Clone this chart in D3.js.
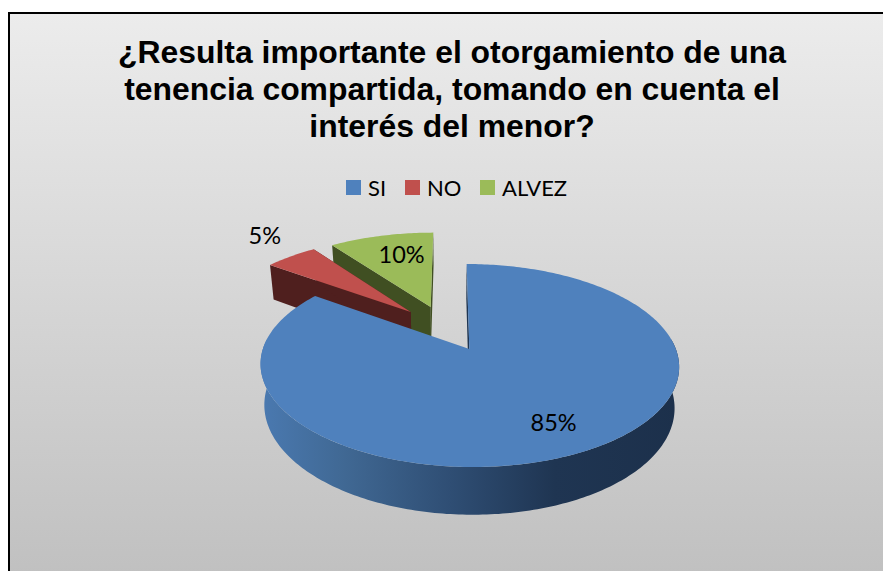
<!DOCTYPE html>
<html>
<head>
<meta charset="utf-8">
<script src="https://cdn.jsdelivr.net/npm/d3@7"></script>
<style>
  html, body { margin: 0; padding: 0; background: #fff; overflow: hidden; }
  svg { display: block; }
</style>
</head>
<body>
<div id="chart"></div>
<script>
// Data
const categories = ["SI", "NO", "ALVEZ"];
const values = [85, 5, 10];
const titleLines = [
  "¿Resulta importante el otorgamiento de una",
  "tenencia compartida, tomando en cuenta el",
  "interés del menor?"
];

const width = 883, height = 571;

const colors = d3.scaleOrdinal().domain(categories).range(["#4f81bd", "#c0504d", "#9bbb59"]);
const wallColors = d3.scaleOrdinal().domain(categories).range(["#1e3552", "#4f1f1e", "#404f22"]);

const svg = d3.select("#chart").append("svg")
  .attr("width", width)
  .attr("height", height);

const defs = svg.append("defs");

const bg = defs.append("linearGradient").attr("id", "bg")
  .attr("x1", 0).attr("y1", 0).attr("x2", 0).attr("y2", 1);
bg.append("stop").attr("offset", "0%").attr("stop-color", "#ececec");
bg.append("stop").attr("offset", "100%").attr("stop-color", "#bebebe");

// the outer wall of the big slice goes dark from left to right
const wall = defs.append("linearGradient").attr("id", "wall")
  .attr("gradientUnits", "userSpaceOnUse")
  .attr("x1", 262).attr("y1", 0).attr("x2", 680).attr("y2", 0);
[[0, "#4a79b0"], [0.2, "#406893"], [0.45, "#2f4e74"], [0.7, "#1f3552"], [1, "#1c304b"]].forEach(s => {
  wall.append("stop").attr("offset", s[0]).attr("stop-color", s[1]);
});

// Frame
svg.append("rect")
  .attr("x", 9).attr("y", 13)
  .attr("width", width + 20).attr("height", height + 20)
  .attr("fill", "url(#bg)")
  .attr("stroke", "#000")
  .attr("stroke-width", 2);

// Title
svg.append("g").selectAll("text")
  .data(titleLines)
  .join("text")
  .attr("x", 452)
  .attr("y", (d, i) => 63 + i * 37)
  .attr("text-anchor", "middle")
  .style("font-family", "'Liberation Sans', Arial, sans-serif")
  .style("font-weight", "bold")
  .style("font-size", "31.9px")
  .style("fill", "#000")
  .text(d => d);

// Legend
const legendX = d3.scaleOrdinal().domain(categories).range([346, 405, 480]);
const legend = svg.append("g").selectAll("g")
  .data(categories)
  .join("g")
  .attr("transform", d => `translate(${legendX(d)},180)`);
legend.append("rect")
  .attr("width", 15).attr("height", 15)
  .attr("fill", d => colors(d));
legend.append("text")
  .attr("x", 22).attr("y", 15.5)
  .style("font-family", "Lato, 'Open Sans', sans-serif")
  .style("font-size", "22px")
  .style("fill", "#000")
  .text(d => d);

// Slices come from d3.pie, the tilted disc is a simple perspective projection
const slices = d3.pie().sort(null).value(d => d)(values)
  .map((s, i) => ({ ...s, name: categories[i] }));

const apex = { x: 468.5, y: 349 };
const vanishX = 450, radiusX = 206.5, radiusY = 98.8, tilt = 0.1626, depth = 40, shrink = 0.98;
const explode = { SI: [0.004, 0], NO: [-0.292, 0.399], ALVEZ: [-0.19, 0.457] };

// u, v on the unit disc, z = 0 top face, z = 1 bottom face
function project(u, v, z) {
  const w = 1 + tilt * v;
  const k = z ? shrink : 1;
  return [
    vanishX + (radiusX * u + apex.x - vanishX) * k / w,
    apex.y + (-radiusY * v + depth * z) / w
  ];
}

function discPoint(s, angle, r, z) {
  const e = explode[s.name];
  return project(e[0] + r * Math.sin(angle), e[1] + r * Math.cos(angle), z);
}

function arcPoints(s, a0, a1, z) {
  const n = Math.ceil(Math.abs(a1 - a0) * 60);
  return d3.range(n + 1).map(i => discPoint(s, a0 + (a1 - a0) * i / n, 1, z));
}

const line = d3.line().curve(d3.curveLinear);
const closed = pts => line(pts) + "Z";

function topFace(s) {
  return closed([discPoint(s, 0, 0, 0), ...arcPoints(s, s.startAngle, s.endAngle, 0)]);
}

function radialWall(s, angle) {
  return closed([
    discPoint(s, 0, 0, 0), discPoint(s, angle, 1, 0),
    discPoint(s, angle, 1, 1), discPoint(s, 0, 0, 1)
  ]);
}

// Draw back to front: green, red, blue
const order = ["ALVEZ", "NO", "SI"].map(n => slices.find(s => s.name === n));
const pie = svg.append("g");

order.forEach(s => {
  if (s.name === "SI") {
    // radial wall along the top edge, then the curved front wall
    pie.append("path").attr("d", radialWall(s, s.startAngle)).attr("fill", wallColors(s.name));
    const a0 = Math.PI * 0.5 - 0.1, a1 = Math.PI * 1.5 + 0.1;
    pie.append("path")
      .attr("d", closed([...arcPoints(s, a0, a1, 0), ...arcPoints(s, a1, a0, 1)]))
      .attr("fill", "url(#wall)");
  } else {
    pie.append("path").attr("d", radialWall(s, s.startAngle)).attr("fill", wallColors(s.name));
    pie.append("path").attr("d", radialWall(s, s.endAngle)).attr("fill", wallColors(s.name));
  }
  pie.append("path").attr("d", topFace(s)).attr("fill", colors(s.name));
});

// Value labels
const labelRadius = { SI: 0.75, NO: 1.27, ALVEZ: 0.68 };
const labelNudge = { SI: [3, 0], NO: [2.5, -7], ALVEZ: [6, -2] };
svg.append("g").selectAll("text")
  .data(slices)
  .join("text")
  .attr("x", d => discPoint(d, (d.startAngle + d.endAngle) / 2, labelRadius[d.name], 0)[0] + labelNudge[d.name][0])
  .attr("y", d => discPoint(d, (d.startAngle + d.endAngle) / 2, labelRadius[d.name], 0)[1] + labelNudge[d.name][1])
  .attr("dy", ".35em")
  .attr("text-anchor", "middle")
  .style("font-family", "Lato, 'Open Sans', sans-serif")
  .style("font-size", "23.5px")
  .style("fill", "#000")
  .text(d => `${d.value}%`);
</script>
</body>
</html>
